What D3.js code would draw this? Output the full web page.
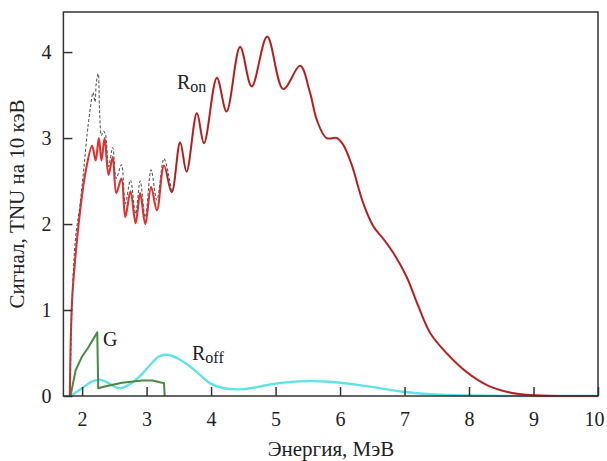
<!DOCTYPE html>
<html>
<head>
<meta charset="utf-8">
<script src="https://cdn.jsdelivr.net/npm/d3@7"></script>
<style>
  html, body { margin: 0; padding: 0; background: #fff; }
  svg text { font-family: "Liberation Serif", "DejaVu Serif", serif; fill: #222; }
</style>
</head>
<body>
<svg id="chart" width="607" height="461"></svg>
<script>
// Energy (MeV) and signal (TNU per 10 keV) for each spectrum
const ronE = [1.81, 1.845, 1.92, 1.97, 2.05, 2.155, 2.21, 2.26, 2.30, 2.35, 2.41, 2.475, 2.53, 2.61, 2.67, 2.75, 2.83, 2.90, 2.98, 3.07, 3.16, 3.27, 3.39, 3.52, 3.62, 3.78, 3.89, 4.09, 4.24, 4.45, 4.63, 4.87, 5.12, 5.38, 5.53, 5.64, 5.79, 5.95, 6.05, 6.18, 6.36, 6.52, 6.68, 6.83, 7.03, 7.20, 7.40, 7.65, 7.96, 8.27, 8.58, 8.95, 9.5, 10.0];
const ronV = [0, 1.12, 1.81, 2.16, 2.59, 2.91, 2.74, 3.0, 2.74, 3.0, 2.57, 2.78, 2.36, 2.53, 2.08, 2.38, 2.01, 2.36, 2.0, 2.43, 2.16, 2.68, 2.37, 2.95, 2.61, 3.29, 2.94, 3.70, 3.31, 4.06, 3.60, 4.18, 3.57, 3.84, 3.54, 3.21, 3.0, 3.0, 2.92, 2.69, 2.24, 1.97, 1.82, 1.66, 1.39, 1.07, 0.73, 0.5, 0.28, 0.13, 0.05, 0.01, 0, 0];

const totE = [1.81, 1.85, 1.90, 1.97, 2.03, 2.08, 2.10, 2.13, 2.17, 2.20, 2.22, 2.25, 2.27, 2.30, 2.33, 2.36, 2.41, 2.475, 2.53, 2.61, 2.67, 2.75, 2.83, 2.90, 2.98, 3.07, 3.16, 3.27, 3.39];
const totV = [0, 1.2, 1.85, 2.24, 2.67, 3.06, 3.19, 3.36, 3.53, 3.42, 3.64, 3.75, 3.33, 3.03, 3.08, 3.05, 2.67, 2.89, 2.53, 2.69, 2.24, 2.51, 2.12, 2.50, 2.08, 2.63, 2.28, 2.76, 2.37];

const gE = [1.82, 1.90, 2.0, 2.10, 2.235, 2.25, 2.35, 2.62, 2.93, 3.09, 3.24, 3.27, 3.28];
const gV = [0, 0.30, 0.46, 0.57, 0.74, 0.09, 0.11, 0.155, 0.18, 0.18, 0.155, 0.15, 0];

const roffE = [1.82, 2.0, 2.155, 2.28, 2.41, 2.57, 2.72, 2.88, 3.03, 3.19, 3.32, 3.50, 3.73, 3.98, 4.2, 4.5, 4.97, 5.38, 5.84, 6.41, 6.98, 7.40, 8.0, 9.0, 10.0];
const roffV = [0, 0.09, 0.17, 0.19, 0.15, 0.09, 0.13, 0.22, 0.34, 0.46, 0.48, 0.43, 0.31, 0.15, 0.09, 0.08, 0.14, 0.17, 0.165, 0.115, 0.05, 0.02, 0.005, 0, 0];

const xTicks = [2, 3, 4, 5, 6, 7, 8, 9, 10];
const yTicks = [0, 1, 2, 3, 4];

const zip = (xs, ys) => xs.map((e, i) => ({ e, v: ys[i] }));

const svg = d3.select("#chart");
const plot = { left: 63.4, right: 598, top: 12, bottom: 396 };

const x = d3.scaleLinear().domain([1.71, 10]).range([plot.left, plot.right]);
const y = d3.scaleLinear().domain([0, 4.466]).range([plot.bottom, plot.top]);

const smooth = d3.line().x(d => x(d.e)).y(d => y(d.v)).curve(d3.curveCatmullRom.alpha(0.5));
const straight = d3.line().x(d => x(d.e)).y(d => y(d.v));

svg.append("defs").append("clipPath").attr("id", "upper")
  .append("rect")
  .attr("x", x(3.3)).attr("y", plot.top)
  .attr("width", plot.right - x(3.3)).attr("height", plot.bottom - plot.top);

// Roff
svg.append("path").datum(zip(roffE, roffV))
  .attr("d", smooth).attr("fill", "none")
  .attr("stroke", "#5fe3ea").attr("stroke-width", 2.4);

// G
svg.append("path").datum(zip(gE, gV))
  .attr("d", straight).attr("fill", "none")
  .attr("stroke", "#468a44").attr("stroke-width", 2).attr("stroke-linejoin", "round");

// Ron
const ron = zip(ronE, ronV);
svg.append("path").datum(ron)
  .attr("d", smooth).attr("fill", "none")
  .attr("stroke", "#e2302e").attr("stroke-width", 2.1);

// Dark core where Ron and the total coincide
svg.append("path").datum(ron)
  .attr("d", smooth).attr("fill", "none")
  .attr("clip-path", "url(#upper)")
  .attr("stroke", "#5a2424").attr("stroke-width", 0.9).attr("stroke-opacity", 0.8);

// Total (dashed) at low energies
svg.append("path").datum(zip(totE, totV))
  .attr("d", smooth).attr("fill", "none")
  .attr("stroke", "#5a5a5a").attr("stroke-width", 1.1)
  .attr("stroke-dasharray", "3,2");

// Frame
svg.append("rect")
  .attr("x", plot.left).attr("y", plot.top)
  .attr("width", plot.right - plot.left).attr("height", plot.bottom - plot.top)
  .attr("fill", "none").attr("stroke", "#333").attr("stroke-width", 1.5);

// Axes with inward ticks
const xAxis = svg.append("g").attr("transform", `translate(0,${plot.bottom})`)
  .call(d3.axisBottom(x).tickValues(xTicks).tickSizeInner(-9).tickSizeOuter(0).tickPadding(16).tickFormat(d3.format("d")));
const yAxis = svg.append("g").attr("transform", `translate(${plot.left},0)`)
  .call(d3.axisLeft(y).tickValues(yTicks).tickSizeInner(-9).tickSizeOuter(0).tickPadding(12).tickFormat(d3.format("d")));

[xAxis, yAxis].forEach(a => {
  a.select(".domain").remove();
  a.selectAll(".tick line").attr("stroke", "#333").attr("stroke-width", 1.5);
  a.selectAll(".tick text").attr("font-size", 20).attr("font-family", "Liberation Serif").attr("fill", "#222");
});

// Keep the last energy label inside the canvas
xAxis.selectAll(".tick").filter(d => d === 10).select("text")
  .attr("text-anchor", "end").attr("x", 6);

// Axis titles
svg.append("text")
  .attr("x", 331).attr("y", 456)
  .attr("text-anchor", "middle").attr("font-size", 21)
  .text("Энергия, МэВ");

svg.append("text")
  .attr("transform", "translate(24,204) rotate(-90)")
  .attr("text-anchor", "middle").attr("font-size", 21)
  .text("Сигнал, TNU на 10 кэВ");

// Curve labels
function subLabel(tx, ty, main, sub) {
  const t = svg.append("text").attr("x", tx).attr("y", ty).attr("font-size", 20);
  t.append("tspan").text(main);
  t.append("tspan").attr("font-size", 16).attr("dy", 3).text(sub);
}
subLabel(177, 89, "R", "on");
subLabel(192, 360, "R", "off");
svg.append("text").attr("x", 103).attr("y", 346).attr("font-size", 20).text("G");
</script>
</body>
</html>
